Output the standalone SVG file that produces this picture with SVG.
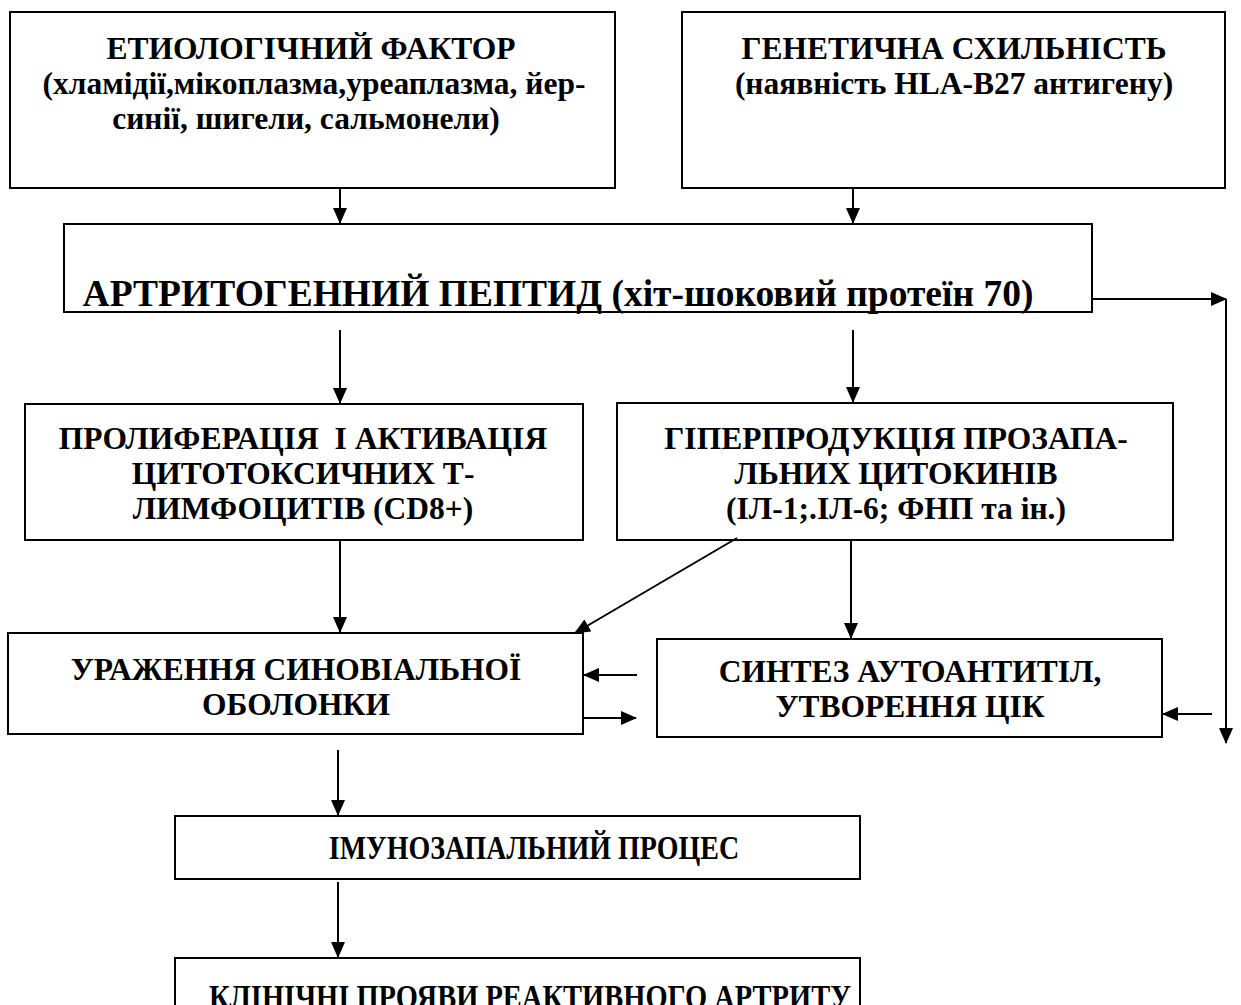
<svg xmlns="http://www.w3.org/2000/svg" width="1241" height="1005" viewBox="0 0 1241 1005">
<style>
.box{fill:#fff;stroke:#000;stroke-width:2}
.t{font-family:"Liberation Serif","Times New Roman",serif;font-weight:bold;font-size:31.5px;fill:#000;text-anchor:middle;white-space:pre}
.big{font-size:37.5px}
.small{font-size:28.5px}
.mid{font-size:28px}
.c{stroke:#000;stroke-width:2;fill:none}
</style>
<defs>
<marker id="ah" markerUnits="userSpaceOnUse" markerWidth="16" markerHeight="14" refX="15" refY="7" orient="auto">
<path d="M0,0 L16,7 L0,14 Z" fill="#000"/>
</marker>
</defs>
<rect width="1241" height="1005" fill="#fff"/>
<g id="etiology">
<rect class="box" x="10" y="12" width="605" height="176"/>
<text class="t" x="311" y="59">ЕТИОЛОГІЧНИЙ ФАКТОР</text>
<text class="t" x="314" y="94">(хламідії,мікоплазма,уреаплазма, йер-</text>
<text class="t" x="306" y="129">синії, шигели, сальмонели)</text>
</g>
<g id="genetic">
<rect class="box" x="682" y="12" width="543" height="176"/>
<text class="t" x="954" y="59">ГЕНЕТИЧНА СХИЛЬНІСТЬ</text>
<text class="t" x="954" y="94">(наявність HLA-B27 антигену)</text>
</g>
<g id="peptide">
<rect class="box" x="64" y="224" width="1028" height="88"/>
<text class="t big" x="558" y="306">АРТРИТОГЕННИЙ ПЕПТИД (хіт-шоковий протеїн 70)</text>
</g>
<g id="proliferation">
<rect class="box" x="25" y="404" width="558" height="136"/>
<text class="t" x="303" y="449">ПРОЛИФЕРАЦІЯ  І АКТИВАЦІЯ</text>
<text class="t" x="303" y="484">ЦИТОТОКСИЧНИХ Т-</text>
<text class="t" x="303" y="519">ЛИМФОЦИТІВ (CD8+)</text>
</g>
<g id="cytokines">
<rect class="box" x="617" y="403" width="556" height="137"/>
<text class="t" x="896" y="449">ГІПЕРПРОДУКЦІЯ ПРОЗАПА-</text>
<text class="t" x="896" y="484">ЛЬНИХ ЦИТОКИНІВ</text>
<text class="t" x="896" y="519">(ІЛ-1;.ІЛ-6; ФНП та ін.)</text>
</g>
<g id="synovial">
<rect class="box" x="8" y="633" width="575" height="101"/>
<text class="t" x="296" y="680">УРАЖЕННЯ СИНОВІАЛЬНОЇ</text>
<text class="t" x="296" y="715">ОБОЛОНКИ</text>
</g>
<g id="autoantibodies">
<rect class="box" x="657" y="639" width="505" height="98"/>
<text class="t" x="910" y="682">СИНТЕЗ АУТОАНТИТІЛ,</text>
<text class="t" x="910" y="717">УТВОРЕННЯ ЦІК</text>
</g>
<g id="immuno">
<rect class="box" x="175" y="816" width="685" height="63"/>
<text class="t mid" transform="translate(534,859) scale(1,1.2)">ІМУНОЗАПАЛЬНИЙ ПРОЦЕС</text>
</g>
<g id="clinical">
<rect class="box" x="175" y="958" width="685" height="70"/>
<text class="t small" transform="translate(530,1008) scale(1,1.2)">КЛІНІЧНІ ПРОЯВИ РЕАКТИВНОГО АРТРИТУ</text>
</g>
<g id="connectors">
<line class="c" x1="340" y1="188" x2="340" y2="223" marker-end="url(#ah)"/>
<line class="c" x1="853" y1="188" x2="853" y2="223" marker-end="url(#ah)"/>
<line class="c" x1="340" y1="330" x2="340" y2="403" marker-end="url(#ah)"/>
<line class="c" x1="853" y1="330" x2="853" y2="402" marker-end="url(#ah)"/>
<line class="c" x1="1092" y1="299" x2="1226" y2="299" marker-end="url(#ah)"/>
<line class="c" x1="1226" y1="299" x2="1226" y2="743" marker-end="url(#ah)"/>
<line class="c" x1="1212" y1="714" x2="1163" y2="714" marker-end="url(#ah)"/>
<line class="c" x1="340" y1="540" x2="340" y2="632" marker-end="url(#ah)"/>
<line class="c" x1="737" y1="538" x2="575" y2="633" marker-end="url(#ah)"/>
<line class="c" x1="851" y1="540" x2="851" y2="638" marker-end="url(#ah)"/>
<line class="c" x1="637" y1="675" x2="584" y2="675" marker-end="url(#ah)"/>
<line class="c" x1="584" y1="718" x2="636" y2="718" marker-end="url(#ah)"/>
<line class="c" x1="338" y1="750" x2="338" y2="815" marker-end="url(#ah)"/>
<line class="c" x1="338" y1="882" x2="338" y2="957" marker-end="url(#ah)"/>
</g>
</svg>
